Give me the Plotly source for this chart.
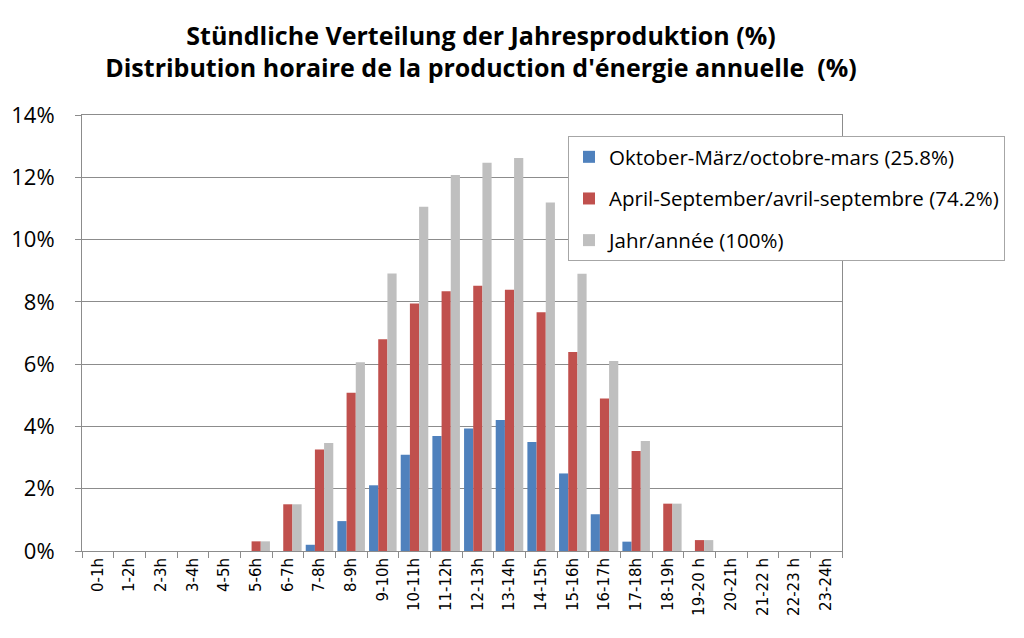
import plotly.graph_objects as go

hours = ["0-1h", "1-2h", "2-3h", "3-4h", "4-5h", "5-6h", "6-7h", "7-8h", "8-9h", "9-10h",
         "10-11h", "11-12h", "12-13h", "13-14h", "14-15h", "15-16h", "16-17h", "17-18h",
         "18-19h", "19-20 h", "20-21h", "21-22 h", "22-23 h", "23-24h"]

winter = [0, 0, 0, 0, 0, 0, 0, 0.20, 0.96, 2.11, 3.09, 3.69, 3.93, 4.21, 3.50, 2.49, 1.18, 0.30,
          0, 0, 0, 0, 0, 0]
summer = [0, 0, 0, 0, 0, 0.31, 1.50, 3.26, 5.08, 6.80, 7.95, 8.34, 8.52, 8.39, 7.67, 6.39, 4.90,
          3.21, 1.52, 0.35, 0, 0, 0, 0]
year = [0, 0, 0, 0, 0, 0.31, 1.50, 3.47, 6.06, 8.91, 11.05, 12.07, 12.47, 12.62, 11.19, 8.90,
        6.10, 3.53, 1.52, 0.35, 0, 0, 0, 0]

series_names = ["Oktober-März/octobre-mars (25.8%)",
                "April-September/avril-septembre (74.2%)",
                "Jahr/année (100%)"]
colors = ["#4F81BD", "#C0504D", "#BFBFBF"]

fig = go.Figure()
for i, (name, vals, col) in enumerate(zip(series_names, [winter, summer, year], colors)):
    fig.add_trace(go.Bar(x=hours, y=[v / 100 for v in vals], name=name, legendgroup=f"g{i}",
                         marker=dict(color=col, line=dict(width=0))))

W, H = 1016, 630
ml, mt = 74, 107
pw, ph = 760, 436

fig.update_layout(
    width=W, height=H,
    paper_bgcolor="white", plot_bgcolor="white",
    margin=dict(l=ml, r=W - ml - pw, t=mt, b=H - mt - ph, pad=0, autoexpand=False),
    barmode="group", bargap=0.13, bargroupgap=0,
    title=dict(
        text="<b>Stündliche Verteilung der Jahresproduktion (%)<br>Distribution horaire de la production d'énergie annuelle  (%)</b>",
        x=473 / W, xanchor="center", y=1 - 36.5 / H, yanchor="middle",
        font=dict(family="Open Sans, Arial, sans-serif", size=25, color="black"),
    ),
    font=dict(family="Open Sans, Arial, sans-serif", color="black"),
    legend=dict(
        x=(560 - ml) / pw, y=1 - (128 - mt) / ph, xanchor="left", yanchor="top",
        bgcolor="white", bordercolor="#A6A6A6", borderwidth=1,
        font=dict(size=20.5, family="Open Sans, Arial, sans-serif", color="black"),
        tracegroupgap=12, itemwidth=30, traceorder="grouped",
    ),
    showlegend=True,
)

fig.update_yaxes(
    range=[0, 0.14], dtick=0.02, tickformat=".0%", automargin=False,
    showgrid=True, gridcolor="#8C8C8C", gridwidth=1,
    showline=True, linecolor="#8C8C8C", linewidth=1, mirror=True,
    ticks="outside", ticklen=6, tickcolor="#8C8C8C", ticklabelstandoff=16,
    tickfont=dict(size=22, color="black"), zeroline=False,
)
fig.update_xaxes(
    tickangle=-90, tickson="boundaries", automargin=False,
    showline=True, linecolor="#8C8C8C", linewidth=1, mirror=True,
    ticks="outside", ticklen=6, tickcolor="#8C8C8C",
    tickfont=dict(size=15, family="DejaVu Sans, Verdana, sans-serif", color="black"),
)

fig.write_html("out.html")
